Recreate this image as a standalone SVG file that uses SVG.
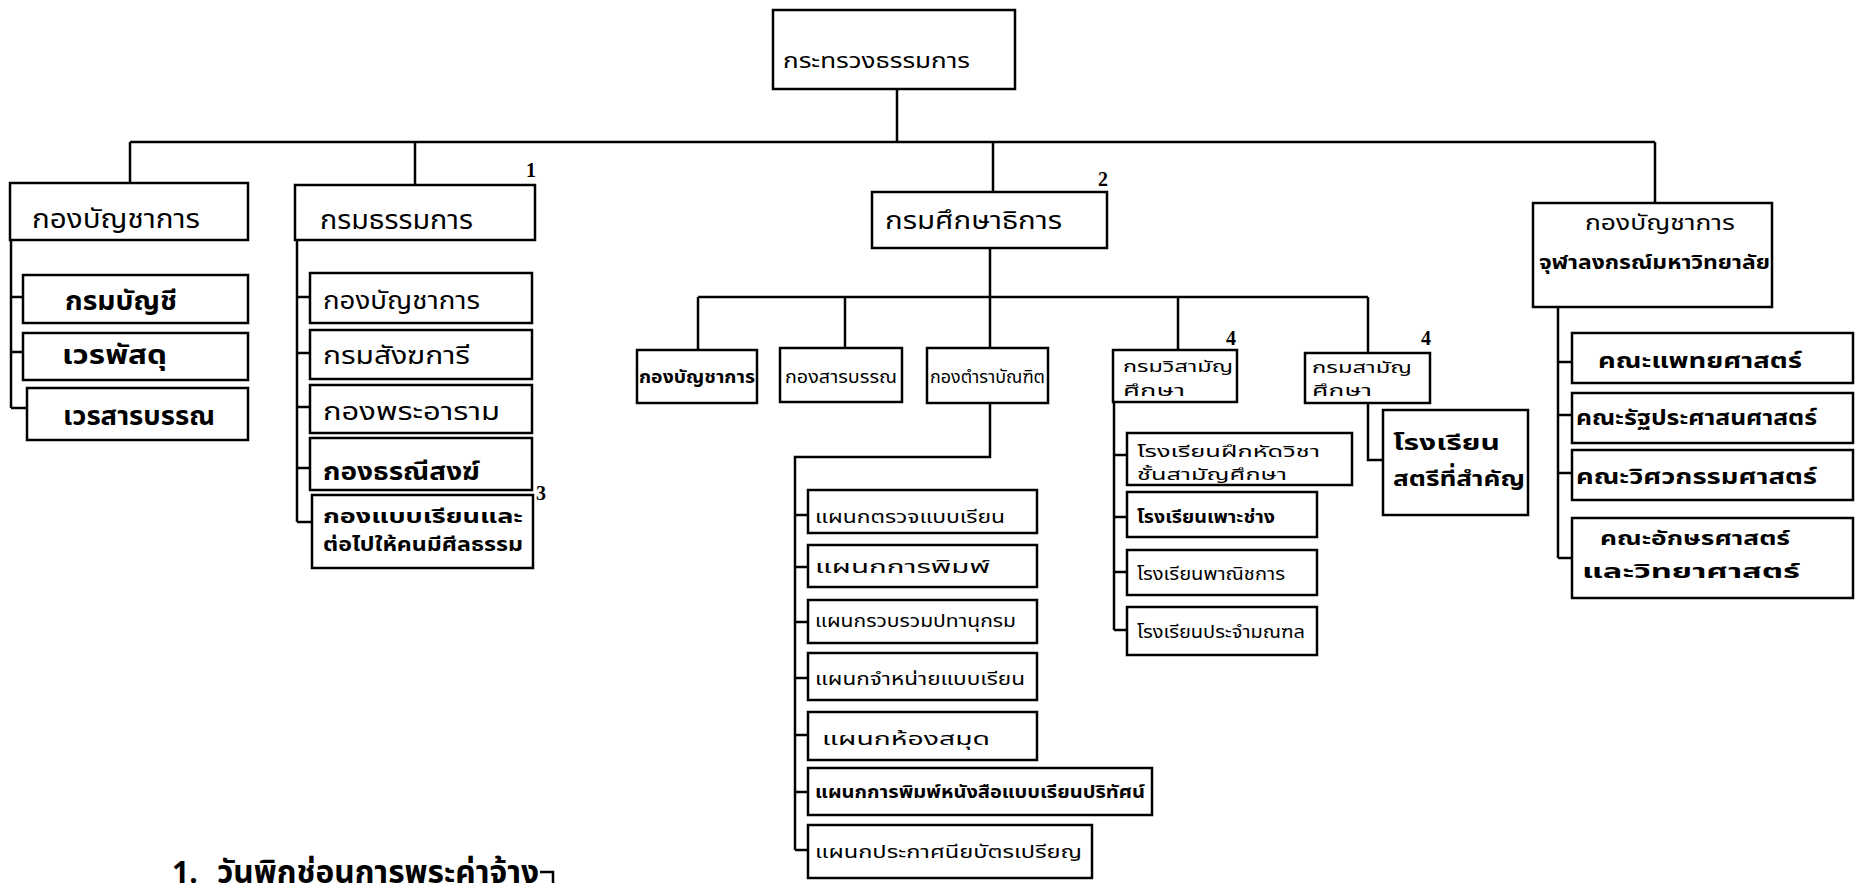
<svg xmlns="http://www.w3.org/2000/svg" width="1861" height="883" viewBox="0 0 1861 883">
<style>
.b{fill:#fff;stroke:#000;stroke-width:2.5}
.c{fill:none;stroke:#000;stroke-width:2.5}
text{font-family:"Noto Sans Thai","Noto Sans","DejaVu Sans",sans-serif;fill:#000}
.t26{font-size:26px}
.t24{font-size:24px}
.t22{font-size:22px}
.t20{font-size:20px}
.t17{font-size:17px}
.t16{font-size:16px}
.t15{font-size:15px}
.bd{font-weight:bold}
.n{font-family:"Liberation Serif",serif;font-size:20px;font-weight:bold}
</style>
<rect width="1861" height="883" fill="#fff"/>
<g id="connectors">
<path class="c" d="M897,89V142M130,142H1655M130,142V183M415,142V185M993,142V192M1655,142V203"/>
<path class="c" d="M11,240V408M11,297H23M11,352H23M11,408H27"/>
<path class="c" d="M297,240V522M297,297H310M297,353H310M297,407H310M297,468H310M297,522H312"/>
<path class="c" d="M990,248V348M698,297H1368M698,297V350M845,297V348M1178,297V350M1368,297V353"/>
<path class="c" d="M990,403V457H795V850M795,515H808M795,567H808M795,622H808M795,678H808M795,735H808M795,792H808M795,850H808"/>
<path class="c" d="M1114,402V630M1114,455H1127M1114,517H1127M1114,572H1127M1114,630H1127"/>
<path class="c" d="M1368,403V460H1383"/>
<path class="c" d="M1558,307V558M1558,362H1572M1558,415H1572M1558,473H1572M1558,558H1572"/>
</g>
<g id="n-top"><rect class="b" x="773" y="10" width="242" height="79"/><text class="t22" x="783" y="68" textLength="187" lengthAdjust="spacingAndGlyphs">กระทรวงธรรมการ</text></g>
<g id="n-hq"><rect class="b" x="10" y="183" width="238" height="57"/><text class="t26" x="32" y="228" textLength="168" lengthAdjust="spacingAndGlyphs">กองบัญชาการ</text></g>
<g id="n-hq1"><rect class="b" x="23" y="275" width="225" height="48"/><text class="t26 bd" x="65" y="310" textLength="112" lengthAdjust="spacingAndGlyphs">กรมบัญชี</text></g>
<g id="n-hq2"><rect class="b" x="23" y="333" width="225" height="47"/><text class="t26 bd" x="62" y="364" textLength="105" lengthAdjust="spacingAndGlyphs">เวรพัสดุ</text></g>
<g id="n-hq3"><rect class="b" x="27" y="388" width="221" height="52"/><text class="t26 bd" x="63" y="425" textLength="152" lengthAdjust="spacingAndGlyphs">เวรสารบรรณ</text></g>
<g id="n-rel"><rect class="b" x="295" y="185" width="240" height="55"/><text class="t26" x="320" y="229" textLength="153" lengthAdjust="spacingAndGlyphs">กรมธรรมการ</text><text class="n" x="526" y="177">1</text></g>
<g id="n-rel1"><rect class="b" x="310" y="273" width="222" height="50"/><text class="t24" x="323" y="309" textLength="157" lengthAdjust="spacingAndGlyphs">กองบัญชาการ</text></g>
<g id="n-rel2"><rect class="b" x="310" y="330" width="222" height="49"/><text class="t24" x="323" y="364" textLength="147" lengthAdjust="spacingAndGlyphs">กรมสังฆการี</text></g>
<g id="n-rel3"><rect class="b" x="310" y="385" width="222" height="48"/><text class="t24" x="323" y="420" textLength="177" lengthAdjust="spacingAndGlyphs">กองพระอาราม</text></g>
<g id="n-rel4"><rect class="b" x="310" y="438" width="222" height="52"/><text class="t24 bd" x="323" y="480" textLength="157" lengthAdjust="spacingAndGlyphs">กองธรณีสงฆ์</text></g>
<g id="n-rel5"><rect class="b" x="312" y="495" width="221" height="73"/><text class="t20 bd" x="323" y="523" textLength="200" lengthAdjust="spacingAndGlyphs">กองแบบเรียนและ</text><text class="t20 bd" x="323" y="551" textLength="200" lengthAdjust="spacingAndGlyphs">ต่อไปให้คนมีศีลธรรม</text><text class="n" x="536" y="500">3</text></g>
<g id="n-edu"><rect class="b" x="872" y="192" width="235" height="56"/><text class="t24" x="885" y="229" textLength="177" lengthAdjust="spacingAndGlyphs">กรมศึกษาธิการ</text><text class="n" x="1098" y="186">2</text></g>
<g id="n-edu1"><rect class="b" x="637" y="350" width="120" height="53"/><text class="t17 bd" x="639" y="383" textLength="116" lengthAdjust="spacingAndGlyphs">กองบัญชาการ</text></g>
<g id="n-edu2"><rect class="b" x="780" y="348" width="122" height="54"/><text class="t17" x="785" y="383" textLength="112" lengthAdjust="spacingAndGlyphs">กองสารบรรณ</text></g>
<g id="n-edu3"><rect class="b" x="927" y="348" width="121" height="55"/><text class="t17" x="930" y="383" textLength="115" lengthAdjust="spacingAndGlyphs">กองตำราบัณฑิต</text></g>
<g id="n-tx1"><rect class="b" x="808" y="490" width="229" height="43"/><text class="t17" x="815" y="523" textLength="190" lengthAdjust="spacingAndGlyphs">แผนกตรวจแบบเรียน</text></g>
<g id="n-tx2"><rect class="b" x="808" y="545" width="229" height="42"/><text class="t17" x="815" y="573" textLength="175" lengthAdjust="spacingAndGlyphs">แผนกการพิมพ์</text></g>
<g id="n-tx3"><rect class="b" x="808" y="600" width="229" height="43"/><text class="t17" x="815" y="627" textLength="201" lengthAdjust="spacingAndGlyphs">แผนกรวบรวมปทานุกรม</text></g>
<g id="n-tx4"><rect class="b" x="808" y="653" width="229" height="47"/><text class="t17" x="815" y="685" textLength="210" lengthAdjust="spacingAndGlyphs">แผนกจำหน่ายแบบเรียน</text></g>
<g id="n-tx5"><rect class="b" x="808" y="712" width="229" height="48"/><text class="t17" x="822" y="745" textLength="168" lengthAdjust="spacingAndGlyphs">แผนกห้องสมุด</text></g>
<g id="n-tx6"><rect class="b" x="808" y="768" width="344" height="47"/><text class="t17 bd" x="815" y="798" textLength="330" lengthAdjust="spacingAndGlyphs">แผนกการพิมพ์หนังสือแบบเรียนปริทัศน์</text></g>
<g id="n-tx7"><rect class="b" x="808" y="825" width="284" height="53"/><text class="t17" x="815" y="858" textLength="267" lengthAdjust="spacingAndGlyphs">แผนกประกาศนียบัตรเปรียญ</text></g>
<g id="n-voc"><rect class="b" x="1113" y="350" width="124" height="52"/><text class="t16" x="1123" y="372" textLength="110" lengthAdjust="spacingAndGlyphs">กรมวิสามัญ</text><text class="t16" x="1123" y="396" textLength="62" lengthAdjust="spacingAndGlyphs">ศึกษา</text><text class="n" x="1226" y="345">4</text></g>
<g id="n-voc1"><rect class="b" x="1127" y="433" width="225" height="52"/><text class="t16" x="1137" y="457" textLength="183" lengthAdjust="spacingAndGlyphs">โรงเรียนฝึกหัดวิชา</text><text class="t16" x="1137" y="480" textLength="150" lengthAdjust="spacingAndGlyphs">ชั้นสามัญศึกษา</text></g>
<g id="n-voc2"><rect class="b" x="1127" y="492" width="190" height="45"/><text class="t17 bd" x="1137" y="523" textLength="138" lengthAdjust="spacingAndGlyphs">โรงเรียนเพาะช่าง</text></g>
<g id="n-voc3"><rect class="b" x="1127" y="550" width="190" height="45"/><text class="t17" x="1137" y="580" textLength="148" lengthAdjust="spacingAndGlyphs">โรงเรียนพาณิชการ</text></g>
<g id="n-voc4"><rect class="b" x="1127" y="607" width="190" height="48"/><text class="t17" x="1137" y="638" textLength="168" lengthAdjust="spacingAndGlyphs">โรงเรียนประจำมณฑล</text></g>
<g id="n-gen"><rect class="b" x="1305" y="353" width="125" height="50"/><text class="t15" x="1312" y="373" textLength="100" lengthAdjust="spacingAndGlyphs">กรมสามัญ</text><text class="t15" x="1312" y="396" textLength="60" lengthAdjust="spacingAndGlyphs">ศึกษา</text><text class="n" x="1421" y="345">4</text></g>
<g id="n-gen1"><rect class="b" x="1383" y="410" width="145" height="105"/><text class="t22 bd" x="1393" y="450" textLength="107" lengthAdjust="spacingAndGlyphs">โรงเรียน</text><text class="t22 bd" x="1393" y="486" textLength="132" lengthAdjust="spacingAndGlyphs">สตรีที่สำคัญ</text></g>
<g id="n-cu"><rect class="b" x="1533" y="203" width="239" height="104"/><text class="t22" x="1585" y="230" textLength="150" lengthAdjust="spacingAndGlyphs">กองบัญชาการ</text><text class="t20 bd" x="1539" y="269" textLength="231" lengthAdjust="spacingAndGlyphs">จุฬาลงกรณ์มหาวิทยาลัย</text></g>
<g id="n-cu1"><rect class="b" x="1572" y="333" width="281" height="50"/><text class="t22 bd" x="1598" y="368" textLength="204" lengthAdjust="spacingAndGlyphs">คณะแพทยศาสตร์</text></g>
<g id="n-cu2"><rect class="b" x="1572" y="393" width="281" height="50"/><text class="t22 bd" x="1576" y="425" textLength="241" lengthAdjust="spacingAndGlyphs">คณะรัฐประศาสนศาสตร์</text></g>
<g id="n-cu3"><rect class="b" x="1572" y="450" width="281" height="50"/><text class="t22 bd" x="1576" y="484" textLength="241" lengthAdjust="spacingAndGlyphs">คณะวิศวกรรมศาสตร์</text></g>
<g id="n-cu4"><rect class="b" x="1572" y="518" width="281" height="80"/><text class="t20 bd" x="1600" y="545" textLength="190" lengthAdjust="spacingAndGlyphs">คณะอักษรศาสตร์</text><text class="t20 bd" x="1582" y="578" textLength="218" lengthAdjust="spacingAndGlyphs">และวิทยาศาสตร์</text></g>
<g id="footnote">
<text x="172" y="883" style="font-size:30px;font-weight:bold">1.</text>
<text x="217" y="883" style="font-size:32px;font-weight:bold" textLength="322" lengthAdjust="spacingAndGlyphs">วันพิกช่อนการพระค่าจ้าง</text>
<path class="c" d="M540,872H553V883"/>
</g>
</svg>
